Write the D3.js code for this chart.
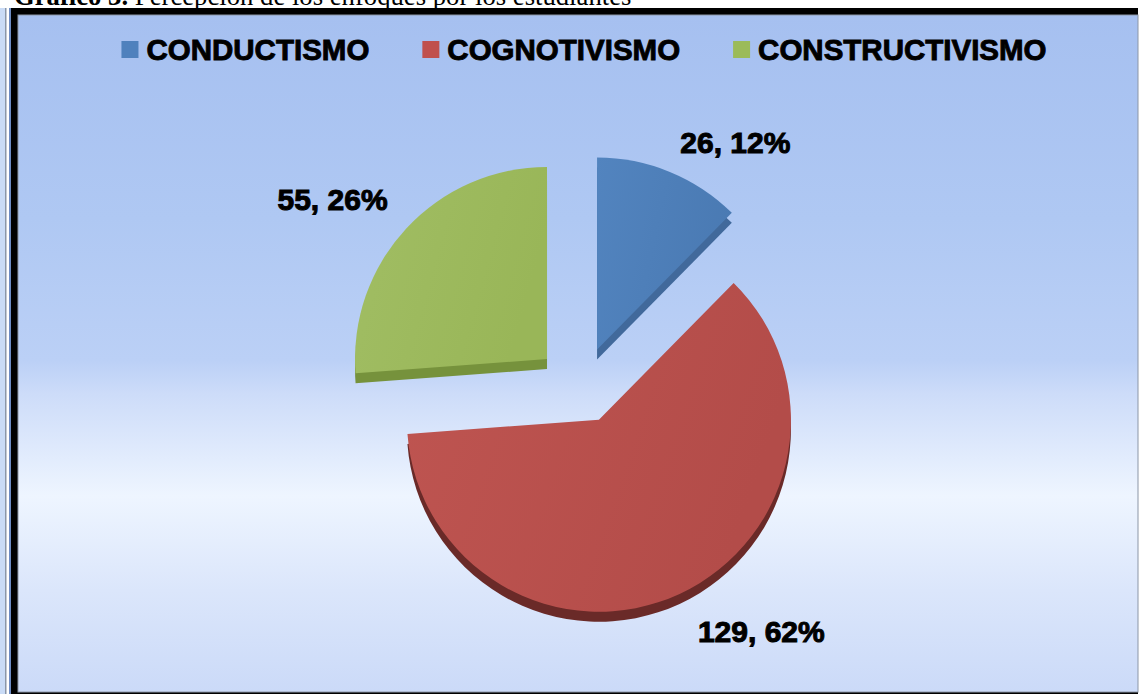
<!DOCTYPE html>
<html>
<head>
<meta charset="utf-8">
<script src="https://cdn.jsdelivr.net/npm/d3@7"></script>
<style>
  body { margin: 0; background: #fff; }
  svg { display: block; }
</style>
</head>
<body>
<svg id="chart" width="1141" height="694"></svg>
<script>
// datos del gráfico
const categorias = ["CONDUCTISMO", "COGNOTIVISMO", "CONSTRUCTIVISMO"];
const valores = [26, 129, 55];
const porcentajes = ["12%", "62%", "26%"];
const colores = ["#4f81bd", "#c0504d", "#9bbb59"];
const coloresCara = [["#5284bf", "#4a7ab3"], ["#bf5551", "#b34c49"], ["#a1be64", "#99b658"]];
const coloresLado = ["#41699b", "#6a2a28", "#76923c"];

// layout
const W = 1141, H = 694;
const area = { x: 18, y: 15, w: 1120, h: 677 };
const cx = 580, cy = 385, R = 192, explode = 45, ky = 0.85, depth = 10;
const labelR = [249, 267, 267], labelShift = [0.2, -0.22, -0.11];   // "best fit"

const svg = d3.select("#chart");
const defs = svg.append("defs");

// fondo con degradado
const bg = defs.append("linearGradient").attr("id", "bg")
  .attr("x1", 0).attr("y1", 0).attr("x2", 0).attr("y2", 1);
[[0, "#a6c0f0"], [0.3, "#afc8f3"], [0.51, "#bbd0f6"], [0.56, "#cddcf9"], [0.71, "#eef5ff"], [0.85, "#dbe6fb"], [1, "#cbdaf8"]]
  .forEach(s => bg.append("stop").attr("offset", s[0]).attr("stop-color", s[1]));

// titulo (cortado arriba, el marco tapa los descendentes)
const tit = svg.append("text").attr("x", 14).attr("y", 5)
  .attr("font-family", "Liberation Serif, Times New Roman, serif").attr("font-size", 26.7).attr("fill", "#000");
tit.append("tspan").attr("font-weight", "bold").text("Gráfico 3.");
tit.append("tspan").text(" Percepción de los enfoques por los  estudiantes");

// borde izquierdo (doble linea) y marco
svg.append("rect").attr("x", 0).attr("y", 8).attr("width", 5).attr("height", H - 8).attr("fill", "#c9dbf6");
svg.append("rect").attr("x", 5).attr("y", 8).attr("width", 1.5).attr("height", H - 8).attr("fill", "#8a96a8");
svg.append("rect").attr("x", 9).attr("y", 8).attr("width", 2).attr("height", H - 8).attr("fill", "#6d8cc4");
svg.append("rect").attr("x", 11).attr("y", 8).attr("width", area.x + area.w - 11).attr("height", H - 8).attr("fill", "#000");
svg.append("rect").attr("x", area.x).attr("y", area.y).attr("width", area.w).attr("height", area.h)
  .attr("fill", "url(#bg)").attr("stroke", "#8c96a6").attr("stroke-width", 1);

// leyenda
const legFont = 29.5, legGap = 53;
const leg = svg.append("g");
let lx = 0;
categorias.forEach((c, i) => {
  const g = leg.append("g").attr("transform", `translate(${lx},0)`);
  g.append("rect").attr("x", 0).attr("y", -9).attr("width", 17).attr("height", 17).attr("fill", colores[i]);
  const t = g.append("text").attr("x", 25).attr("y", 0).attr("dy", "0.35em")
    .attr("font-family", "Liberation Sans, Arial, sans-serif").attr("font-weight", "bold")
    .attr("font-size", legFont).attr("fill", "#000").attr("stroke", "#000").attr("stroke-width", 0.9)
    .text(c);
  lx += 25 + t.node().getComputedTextLength() + legGap;
});
const legW = lx - legGap;
leg.attr("transform", `translate(${584 - legW / 2},50)`);

// pastel
const pie = d3.pie().sort(null).value(d => d).startAngle(0).endAngle(2 * Math.PI);
const arcs = pie(valores);
const arc = d3.arc().innerRadius(0).outerRadius(R);

arcs.forEach((a, i) => {
  const g = defs.append("linearGradient").attr("id", "cara" + i)
    .attr("x1", 0).attr("y1", 0).attr("x2", 1).attr("y2", 0.3);
  g.append("stop").attr("offset", 0).attr("stop-color", coloresCara[i][0]);
  g.append("stop").attr("offset", 1).attr("stop-color", coloresCara[i][1]);
});

function centro(a) {
  const m = (a.startAngle + a.endAngle) / 2;
  return [cx + explode * Math.sin(m), cy - explode * ky * Math.cos(m)];
}

const slices = svg.append("g").selectAll("g").data(arcs).join("g")
  .attr("transform", d => `translate(${centro(d)})`);

// lado (profundidad)
slices.append("path").attr("d", arc).attr("transform", `translate(0,${depth})`)
  .attr("fill", (d, i) => coloresLado[i]);
// cara superior
slices.append("path").attr("d", arc).attr("fill", (d, i) => `url(#cara${i})`);

// etiquetas
arcs.forEach((a, i) => {
  const c = centro(a);
  const m = (a.startAngle + a.endAngle) / 2 + labelShift[i];
  svg.append("text")
    .attr("x", c[0] + labelR[i] * Math.sin(m))
    .attr("y", c[1] - labelR[i] * Math.cos(m))
    .attr("dy", "0.35em").attr("text-anchor", "middle")
    .attr("font-family", "Liberation Sans, Arial, sans-serif").attr("font-weight", "bold")
    .attr("font-size", 30).attr("fill", "#000").attr("stroke", "#000").attr("stroke-width", 1)
    .text(`${valores[i]}, ${porcentajes[i]}`);
});
</script>
</body>
</html>
